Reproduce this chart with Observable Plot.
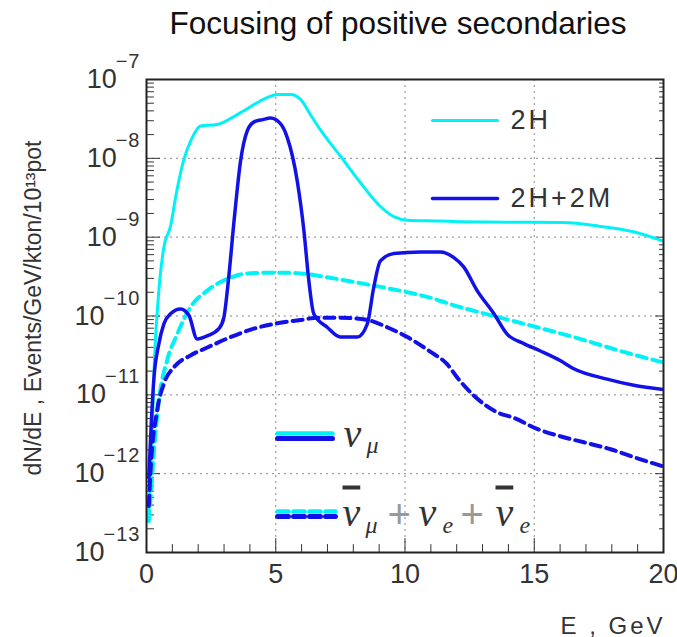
<!DOCTYPE html>
<html><head><meta charset="utf-8">
<script src="https://cdn.jsdelivr.net/npm/d3@7"></script>
<script src="https://cdn.jsdelivr.net/npm/@observablehq/plot@0.6"></script>
<style>body{margin:0;background:#fff;} svg{display:block;}</style>
</head><body><div id="chart"></div>
<script>
// ---- data ----
const title = "Focusing of positive secondaries";
const xTitle = "E , GeV";
const yTitle = "dN/dE , Events/GeV/kton/10\u00B9\u00B3pot";
const xTicks = [0, 5, 10, 15, 20];
const xGrid = [5, 10, 15];
const yDecades = [1e-7, 1e-8, 1e-9, 1e-10, 1e-11, 1e-12, 1e-13];
const yExponents = ["\u22127", "\u22128", "\u22129", "\u221210", "\u221211", "\u221212", "\u221213"];
const yGrid = [1e-8, 1e-9, 1e-10, 1e-11, 1e-12];
const configLabels = ["2H", "2H+2M"];

// nu_mu, 2H (cyan solid)
const cyanSolidE = [0.08,0.15,0.22,0.28,0.45,0.67,0.93,1.15,1.44,1.75,2.09,2.73,3.64,4.67,5.06,5.57,5.96,6.35,6.73,7.5,8.28,9.05,9.57,10.08,11.37,12.15,14.0,16.13,17.5,18.84,20.0];
const cyanSolidF = [2.5e-13,1.0e-12,3.2e-12,1.6e-11,1.6e-10,7.4e-10,1.38e-9,3.55e-9,9.5e-9,1.78e-8,2.57e-8,2.69e-8,3.8e-8,5.9e-8,6.46e-8,6.46e-8,5.6e-8,3.55e-8,2.29e-8,1.07e-8,4.9e-9,2.45e-9,1.82e-9,1.64e-9,1.6e-9,1.57e-9,1.55e-9,1.53e-9,1.38e-9,1.17e-9,8.9e-10];
// nu_mu, 2H+2M (blue solid)
const blueSolidE = [0.09,0.18,0.28,0.48,0.67,0.93,1.32,1.64,1.96,2.35,2.80,2.99,3.18,3.4,3.64,3.90,4.15,4.5,4.80,5.18,5.44,5.83,6.09,6.28,6.47,6.99,7.50,8.15,8.54,8.79,9.05,9.57,10.60,11.37,11.89,12.27,12.79,13.44,13.95,14.60,15.24,16.02,16.53,17.82,18.85,20.0];
const blueSolidF = [8.9e-13,4.0e-12,1.51e-11,4.47e-11,7.9e-11,1.07e-10,1.23e-10,1.02e-10,5.1e-11,5.6e-11,6.9e-11,9.5e-11,3.1e-10,1.78e-9,9.3e-9,2.24e-8,2.88e-8,3.1e-8,3.24e-8,2.75e-8,1.86e-8,5.2e-9,1.2e-9,2.8e-10,1.07e-10,7.2e-11,5.4e-11,5.4e-11,7.9e-11,2.3e-10,5.0e-10,6.2e-10,6.5e-10,6.5e-10,5.5e-10,4.2e-10,2.1e-10,1.07e-10,5.9e-11,4.47e-11,3.6e-11,2.7e-11,2.14e-11,1.58e-11,1.32e-11,1.17e-11];
// other flavours, 2H (cyan dashed)
const cyanDashE = [0.09,0.18,0.28,0.48,0.80,1.19,1.70,2.35,3.12,3.90,5.06,5.96,6.99,8.02,9.05,10.09,11.11,11.76,13.44,15.11,16.53,18.46,20.0];
const cyanDashF = [2.5e-13,6.3e-13,1.78e-12,8.5e-12,2.75e-11,5.9e-11,1.29e-10,2.1e-10,2.95e-10,3.47e-10,3.55e-10,3.47e-10,3.1e-10,2.7e-10,2.34e-10,2.0e-10,1.66e-10,1.41e-10,1.0e-10,7.2e-11,5.4e-11,3.5e-11,2.57e-11];
// other flavours, 2H+2M (blue dashed)
const blueDashE = [0.09,0.15,0.41,0.67,1.06,1.70,2.35,3.25,4.15,5.06,5.96,6.60,7.50,8.54,9.31,10.09,10.99,11.63,12.02,12.66,13.57,14.21,15.11,16.14,16.92,17.95,18.85,20.0];
const blueDashF = [3.9e-13,1.0e-12,6.3e-12,1.38e-11,2.24e-11,3.16e-11,3.98e-11,5.4e-11,6.9e-11,8.1e-11,8.9e-11,9.5e-11,9.5e-11,8.9e-11,7.2e-11,5.4e-11,3.5e-11,2.45e-11,1.66e-11,9.8e-12,6.0e-12,5.1e-12,3.7e-12,2.9e-12,2.5e-12,2.04e-12,1.62e-12,1.23e-12];

const CYAN = "#00f2f6", BLUE = "#1212e8", INK = "#333";
const rows = (E, F) => E.map((e, i) => ({E: e, F: F[i]}));

// ---- plot ----
const lineShape = {draw(ctx, l) { ctx.moveTo(0, 0); ctx.lineTo(0, -l); }};
const yAll = d3.scaleLog().domain([1e-13, 1e-7]).ticks();
const yMinor = yAll.filter(v => !yDecades.some(d => Math.abs(v / d - 1) < 1e-6));
const xMinor = d3.range(0, 21).filter(v => v % 5 !== 0);
const LEG = {frameAnchor: "top-left", textAnchor: "start", lineAnchor: "middle"};

const chart = Plot.plot({
  width: 677, height: 637,
  marginLeft: 146, marginRight: 14, marginTop: 79, marginBottom: 85,
  style: {fontFamily: "'Liberation Sans', Arial, sans-serif", background: "#fff"},
  x: {domain: [0, 20], axis: null},
  y: {type: "log", domain: [1e-13, 1e-7], axis: null},
  marks: [
    Plot.ruleX(xGrid, {x: d => d, stroke: "#888", strokeDasharray: "2,4"}),
    Plot.ruleY(yGrid, {y: d => d, stroke: "#888", strokeDasharray: "2,4"}),
    // inward ticks
    Plot.vector(xMinor, {x: d => d, frameAnchor: "bottom", rotate: 0, length: 8, anchor: "start", shape: lineShape, stroke: INK, strokeWidth: 1}),
    Plot.vector(xTicks, {x: d => d, frameAnchor: "bottom", rotate: 0, length: 14, anchor: "start", shape: lineShape, stroke: INK, strokeWidth: 1}),
    Plot.vector(yMinor, {y: d => d, frameAnchor: "left", rotate: 90, length: 7, anchor: "start", shape: lineShape, stroke: INK, strokeWidth: 1}),
    Plot.vector(yDecades, {y: d => d, frameAnchor: "left", rotate: 90, length: 13, anchor: "start", shape: lineShape, stroke: INK, strokeWidth: 1}),
    Plot.vector(yMinor, {y: d => d, frameAnchor: "right", rotate: -90, length: 4, anchor: "start", shape: lineShape, stroke: INK, strokeWidth: 1}),
    Plot.vector(yDecades, {y: d => d, frameAnchor: "right", rotate: -90, length: 8, anchor: "start", shape: lineShape, stroke: INK, strokeWidth: 1}),
    // curves
    Plot.line(rows(cyanSolidE, cyanSolidF), {x: "E", y: "F", stroke: CYAN, strokeWidth: 3, curve: "monotone-x", clip: true}),
    Plot.line(rows(cyanDashE, cyanDashF), {x: "E", y: "F", stroke: CYAN, strokeWidth: 4, strokeDasharray: "10,6", curve: "monotone-x", clip: true}),
    Plot.line(rows(blueSolidE, blueSolidF), {x: "E", y: "F", stroke: BLUE, strokeWidth: 3.5, curve: "monotone-x", clip: true}),
    Plot.line(rows(blueDashE, blueDashF), {x: "E", y: "F", stroke: BLUE, strokeWidth: 4, strokeDasharray: "10,6", curve: "monotone-x", clip: true}),
    Plot.frame({stroke: "#222", strokeWidth: 2}),
    // axes labels
    Plot.axisX(xTicks, {tickSize: 0, tickPadding: 11, fontSize: 27, fill: INK, label: null}),
    Plot.text(yDecades, {y: d => d, frameAnchor: "left", text: (d, i) => "10|" + yExponents[i], textAnchor: "end", lineAnchor: "middle", dx: -6, fontSize: 27, fill: INK}),
    Plot.text([yTitle], {frameAnchor: "left", text: d => d, rotate: -90, textAnchor: "middle", lineAnchor: "middle", dx: -113, dy: -8, fontSize: 23, fill: INK, style: {letterSpacing: "1.7px"}}),
    Plot.text([xTitle], {frameAnchor: "bottom-right", text: d => d, textAnchor: "end", lineAnchor: "bottom", dx: 2, dy: 81, fontSize: 24, fill: INK}),
    Plot.text([title], {frameAnchor: "top", text: d => d, textAnchor: "middle", lineAnchor: "middle", dy: -56, dx: -7, fontSize: 31.5, fill: "#111"}),
    // legend: configurations
    Plot.vector([0], {frameAnchor: "top-left", dx: 286, dy: 41, rotate: 90, length: 65, anchor: "start", shape: lineShape, stroke: CYAN, strokeWidth: 3}),
    Plot.text([configLabels[0]], {...LEG, text: d => d, dx: 364, dy: 41, fontSize: 27, fill: INK}),
    Plot.vector([0], {frameAnchor: "top-left", dx: 286, dy: 119, rotate: 90, length: 65, anchor: "start", shape: lineShape, stroke: BLUE, strokeWidth: 3.5}),
    Plot.text([configLabels[1]], {...LEG, text: d => d, dx: 364, dy: 119, fontSize: 27, fill: INK}),
    // legend: flavours
    Plot.vector([0], {frameAnchor: "top-left", dx: 131, dy: 354, rotate: 90, length: 55, anchor: "start", shape: lineShape, stroke: CYAN, strokeWidth: 4.5}),
    Plot.vector([0], {frameAnchor: "top-left", dx: 131, dy: 359, rotate: 90, length: 55, anchor: "start", shape: lineShape, stroke: BLUE, strokeWidth: 5}),
    Plot.text(["@numu"], {...LEG, text: d => d, dx: 197, dy: 356, fontSize: 40, fill: INK}),
    Plot.vector([0], {frameAnchor: "top-left", dx: 131, dy: 432, rotate: 90, length: 58, anchor: "start", shape: lineShape, stroke: CYAN, strokeWidth: 4.5, strokeDasharray: "11,5"}),
    Plot.vector([0], {frameAnchor: "top-left", dx: 131, dy: 437, rotate: 90, length: 58, anchor: "start", shape: lineShape, stroke: BLUE, strokeWidth: 5, strokeDasharray: "11,5"}),
    Plot.text(["@others"], {...LEG, text: d => d, dx: 196, dy: 436, fontSize: 40, fill: INK})
  ]
});
document.getElementById("chart").appendChild(chart);

// ---- typographic post-processing (superscripts, subscripts, overbars) ----
const svg = d3.select(chart);
const SERIF = "'Liberation Serif', 'Times New Roman', serif";
function greek(node, parts) {
  const t = d3.select(node);
  t.text(null).attr("text-anchor", "start");
  node.removeAttribute("dy");
  for (const p of parts) {
    const s = t.append("tspan").attr("x", p.x).attr("y", p.y).attr("font-size", p.size).text(p.t);
    if (p.serif) s.attr("font-family", SERIF).attr("font-style", "italic");
    if (p.fill) s.attr("fill", p.fill);
    if (p.bar) s.style("text-decoration", "overline");
  }
}
svg.selectAll("text").each(function() {
  const s = this.textContent;
  if (s.includes("|")) {
    const [b, e] = s.split("|");
    const t = d3.select(this); t.text(null);
    t.append("tspan").text(b);
    t.append("tspan").attr("dy", -20).attr("dx", -1).attr("font-size", 20).attr("letter-spacing", 1).text(e);
  } else if (s === "@numu") {
    greek(this, [
      {t: "\u03BD", x: 0, y: 11, size: 40, serif: true},
      {t: "\u03BC", x: 23, y: 17, size: 24, serif: true}
    ]);
  } else if (s === "@others") {
    greek(this, [
      {t: "\u03BD", x: 0, y: 10, size: 40, serif: true, bar: true},
      {t: "\u03BC", x: 23, y: 17, size: 24, serif: true},
      {t: "+", x: 45, y: 12, size: 40, fill: "#999"},
      {t: "\u03BD", x: 76, y: 10, size: 40, serif: true},
      {t: "e", x: 100, y: 17, size: 24, serif: true},
      {t: "+", x: 118, y: 12, size: 40, fill: "#999"},
      {t: "\u03BD", x: 153, y: 10, size: 40, serif: true, bar: true},
      {t: "e", x: 177, y: 17, size: 24, serif: true}
    ]);
  } else if (s === configLabels[0] || s === configLabels[1]) {
    d3.select(this).attr("letter-spacing", 3);
  } else if (s === xTitle) {
    d3.select(this).attr("letter-spacing", 3).style("white-space", "pre");
  }
});
</script>
</body></html>
